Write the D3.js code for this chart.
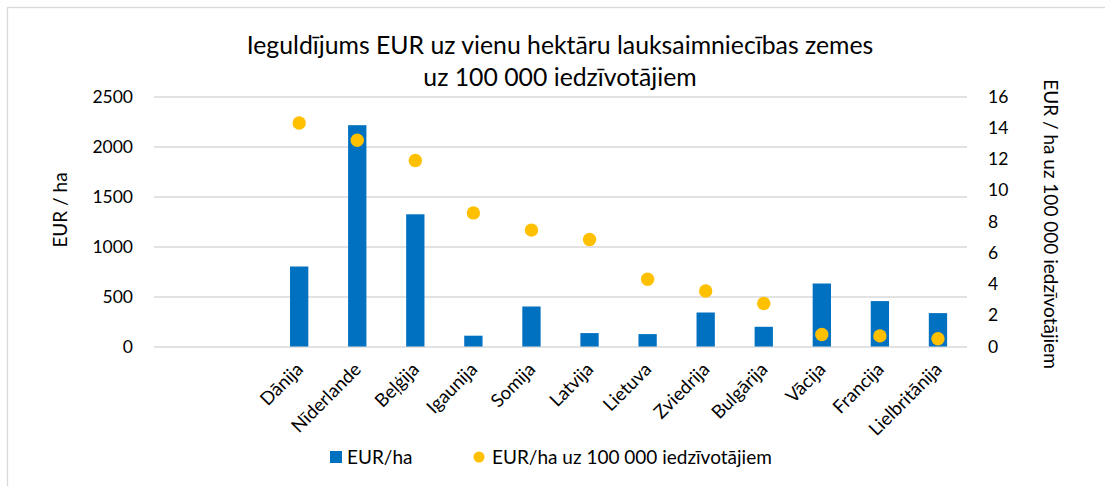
<!DOCTYPE html>
<html>
<head>
<meta charset="utf-8">
<script src="https://cdn.jsdelivr.net/npm/d3@7"></script>
<style>
  html, body { margin: 0; padding: 0; background: #fff; }
  svg { display: block; }
  text { font-family: Lato, "Open Sans", sans-serif; fill: #000; }
</style>
</head>
<body>
<svg id="chart" width="1105" height="486"></svg>
<script>
// ---- data ----
const categories = ["", "", "Dānija", "Nīderlande", "Beļģija", "Igaunija", "Somija", "Latvija", "Lietuva", "Zviedrija", "Bulgārija", "Vācija", "Francija", "Lielbritānija"];
const eurPerHa = [null, null, 800, 2213, 1322, 108, 400, 134, 124, 340, 197, 630, 454, 334];
const eurPerHaPer100k = [null, null, 14.3, 13.2, 11.9, 8.55, 7.45, 6.85, 4.3, 3.55, 2.75, 0.77, 0.68, 0.5];
const leftTicks = [0, 500, 1000, 1500, 2000, 2500];
const rightTicks = [0, 2, 4, 6, 8, 10, 12, 14, 16];
const titleLines = ["Ieguldījums EUR uz vienu hektāru lauksaimniecības zemes", "uz 100 000 iedzīvotājiem"];
const leftAxisTitle = "EUR / ha";
const rightAxisTitle = "EUR / ha uz 100 000 iedzīvotājiem";
const seriesNames = ["EUR/ha", "EUR/ha uz 100 000 iedzīvotājiem"];
const colors = { bar: "#0070C0", dot: "#FFC000", grid: "#d9d9d9", border: "#d9d9d9" };

// ---- layout ----
const svg = d3.select("#chart");
const plot = { left: 154, right: 967, top: 96.5, bottom: 346.5 };
const fontSize = 19;
const tickFont = 17.5;
const catFont = 18.5;

svg.append("rect")
  .attr("x", 7.5).attr("y", 7.5).attr("width", 1120).attr("height", 500)
  .attr("fill", "#fff").attr("stroke", colors.border).attr("stroke-width", 1.3);

const x = d3.scaleBand()
  .domain(d3.range(categories.length))
  .range([plot.left, plot.right])
  .paddingInner(0.685).paddingOuter(0.3425);

const yL = d3.scaleLinear().domain([0, 2500]).range([plot.bottom, plot.top]);
const yR = d3.scaleLinear().domain([0, 16]).range([plot.bottom, plot.top]);

// gridlines
svg.append("g")
  .attr("transform", `translate(${plot.left},0)`)
  .call(d3.axisLeft(yL).tickValues(leftTicks).tickSize(-(plot.right - plot.left)).tickFormat(""))
  .call(g => g.select(".domain").remove())
  .call(g => g.selectAll("line").attr("stroke", colors.grid).attr("stroke-width", 1.3));

// left axis labels
svg.append("g")
  .attr("transform", `translate(${plot.left},0)`)
  .call(d3.axisLeft(yL).tickValues(leftTicks).tickSize(0).tickPadding(21).tickFormat(d3.format("d")))
  .call(g => g.select(".domain").remove())
  .call(g => g.selectAll("text").style("font-family", "Lato").attr("font-size", tickFont).attr("fill", "#000"));

// right axis labels
svg.append("g")
  .attr("transform", `translate(${plot.right},0)`)
  .call(d3.axisRight(yR).tickValues(rightTicks).tickSize(0).tickPadding(21).tickFormat(d3.format("d")))
  .call(g => g.select(".domain").remove())
  .call(g => g.selectAll("text").style("font-family", "Lato").attr("font-size", tickFont).attr("fill", "#000"));

// bars
svg.append("g").selectAll("rect")
  .data(d3.range(categories.length).filter(i => eurPerHa[i] != null))
  .join("rect")
  .attr("x", i => x(i))
  .attr("width", x.bandwidth())
  .attr("y", i => yL(eurPerHa[i]))
  .attr("height", i => yL(0) - yL(eurPerHa[i]))
  .attr("fill", colors.bar);

// dots
svg.append("g").selectAll("circle")
  .data(d3.range(categories.length).filter(i => eurPerHaPer100k[i] != null))
  .join("circle")
  .attr("cx", i => x(i) + x.bandwidth() / 2)
  .attr("cy", i => yR(eurPerHaPer100k[i]))
  .attr("r", 6.7)
  .attr("fill", colors.dot);

// x axis category labels, rotated -45deg, text ending just right of each band centre
svg.append("g").selectAll("text")
  .data(d3.range(categories.length).filter(i => categories[i] !== ""))
  .join("text")
  .attr("transform", i => `translate(${x(i) + x.bandwidth() / 2 + 5},${plot.bottom + 24}) rotate(-45)`)
  .attr("text-anchor", "end")
  .attr("font-size", catFont)
  .text(i => categories[i]);

// title
svg.append("g").selectAll("text")
  .data(titleLines)
  .join("text")
  .attr("x", 560)
  .attr("y", (d, i) => 54 + i * 32)
  .attr("text-anchor", "middle")
  .attr("font-size", 24.8)
  .text(d => d);

// axis titles
svg.append("text")
  .attr("transform", `translate(67,210) rotate(-90)`)
  .attr("text-anchor", "middle")
  .attr("font-size", fontSize)
  .text(leftAxisTitle);

svg.append("text")
  .attr("transform", `translate(1044,224) rotate(90)`)
  .attr("text-anchor", "middle")
  .attr("font-size", fontSize)
  .text(rightAxisTitle);

// legend
const legend = svg.append("g");
legend.append("rect").attr("x", 330).attr("y", 451).attr("width", 12).attr("height", 12).attr("fill", colors.bar);
legend.append("text").attr("x", 347).attr("y", 464).attr("font-size", fontSize).text(seriesNames[0]);
legend.append("circle").attr("cx", 479).attr("cy", 457).attr("r", 5.5).attr("fill", colors.dot);
legend.append("text").attr("x", 492).attr("y", 464).attr("font-size", fontSize).text(seriesNames[1]);
</script>
</body>
</html>
